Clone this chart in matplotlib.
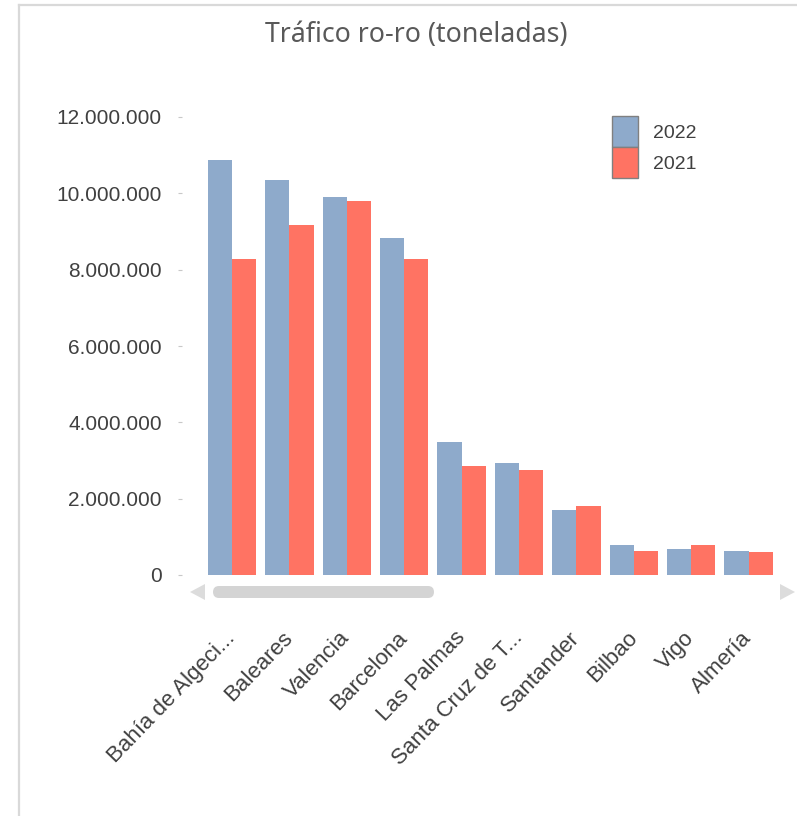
import numpy as np
import matplotlib
matplotlib.use('Agg')
from matplotlib import pyplot as plt
from matplotlib.patches import FancyBboxPatch, Polygon, Rectangle
from matplotlib.lines import Line2D
from matplotlib.ticker import FuncFormatter

puertos = ['Bahía de Algeci...', 'Baleares', 'Valencia', 'Barcelona', 'Las Palmas',
           'Santa Cruz de T...', 'Santander', 'Bilbao', 'Vigo', 'Almería']
t2022 = [10870000, 10350000, 9900000, 8830000, 3480000,
         2930000, 1710000, 780000, 680000, 630000]
t2021 = [8280000, 9170000, 9800000, 8280000, 2860000,
         2750000, 1810000, 640000, 780000, 590000]
yticks = [0, 2000000, 4000000, 6000000, 8000000, 10000000, 12000000]

c22 = '#8eaacb'
c21 = '#ff7363'
W, H = 797, 816

plt.rcParams['font.family'] = ['Liberation Sans', 'DejaVu Sans']
fig = plt.figure(figsize=(W/100, H/100), dpi=100)

def fx(px):
    return px / W

def fy(py):
    return 1 - py / H

# plot area: left at the tick dashes, 0 at y=575, 12M at y=117
ax = fig.add_axes([fx(182), fy(575), fx(785) - fx(182), fy(117) - fy(575)])
x = np.arange(len(puertos))
bw = 0.42
ax.bar(x - bw/2, t2022, bw, color=c22, label='2022')
ax.bar(x + bw/2, t2021, bw, color=c21, label='2021')

ax.set_xlim(-0.871, 9.634)
ax.set_ylim(0, 12000000)
for s in ax.spines.values():
    s.set_visible(False)

ax.set_yticks(yticks)
ax.yaxis.set_major_formatter(FuncFormatter(lambda v, p: f'{int(v):,}'.replace(',', '.')))
ax.tick_params(axis='y', length=3, color='#c8c8c8', pad=11.5, labelsize=15, labelcolor='#404040')

ax.set_xticks(x)
ax.set_xticklabels(puertos, rotation=46, ha='right', va='center', rotation_mode='anchor')
ax.tick_params(axis='x', length=0, pad=43, labelsize=16, labelcolor='#404040')

# legend
h1 = Rectangle((0, 0), 1, 1, facecolor=c22, edgecolor='#808080', lw=1)
h2 = Rectangle((0, 0), 1, 1, facecolor=c21, edgecolor='#808080', lw=1)
fig.legend([h1, h2], ['2022', '2021'], loc='upper left',
           bbox_to_anchor=(fx(612), fy(116)), frameon=False, fontsize=14,
           handlelength=1.34, handleheight=2.08, labelspacing=0.0,
           handletextpad=0.77, borderpad=0, borderaxespad=0,
           labelcolor='#404040')

fig.text(fx(416), fy(35), 'Tráfico ro-ro (toneladas)', ha='center', va='center',
         fontsize=19.2, color='#595959', family=['Noto Sans', 'DejaVu Sans'])

# scrollbar
thumb = FancyBboxPatch((fx(213), fy(598)), fx(434) - fx(213), fy(586) - fy(598),
                       boxstyle='round,pad=0,rounding_size=0.0075',
                       transform=fig.transFigure, facecolor='#d4d4d4', edgecolor='none')
fig.patches.append(thumb)
fig.patches.append(Polygon([(fx(190), fy(592)), (fx(205), fy(584)), (fx(205), fy(600))],
                           closed=True, transform=fig.transFigure, facecolor='#dcdcdc', edgecolor='none'))
fig.patches.append(Polygon([(fx(795), fy(592)), (fx(780), fy(584)), (fx(780), fy(600))],
                           closed=True, transform=fig.transFigure, facecolor='#dcdcdc', edgecolor='none'))

# outer frame (top and left)
fig.lines.append(Line2D([fx(19), 1], [fy(5), fy(5)], transform=fig.transFigure, color='#d9d9d9', lw=1.6))
fig.lines.append(Line2D([fx(19), fx(19)], [fy(5), 0], transform=fig.transFigure, color='#d9d9d9', lw=1.6))

fig.savefig('out.png', dpi=100)
